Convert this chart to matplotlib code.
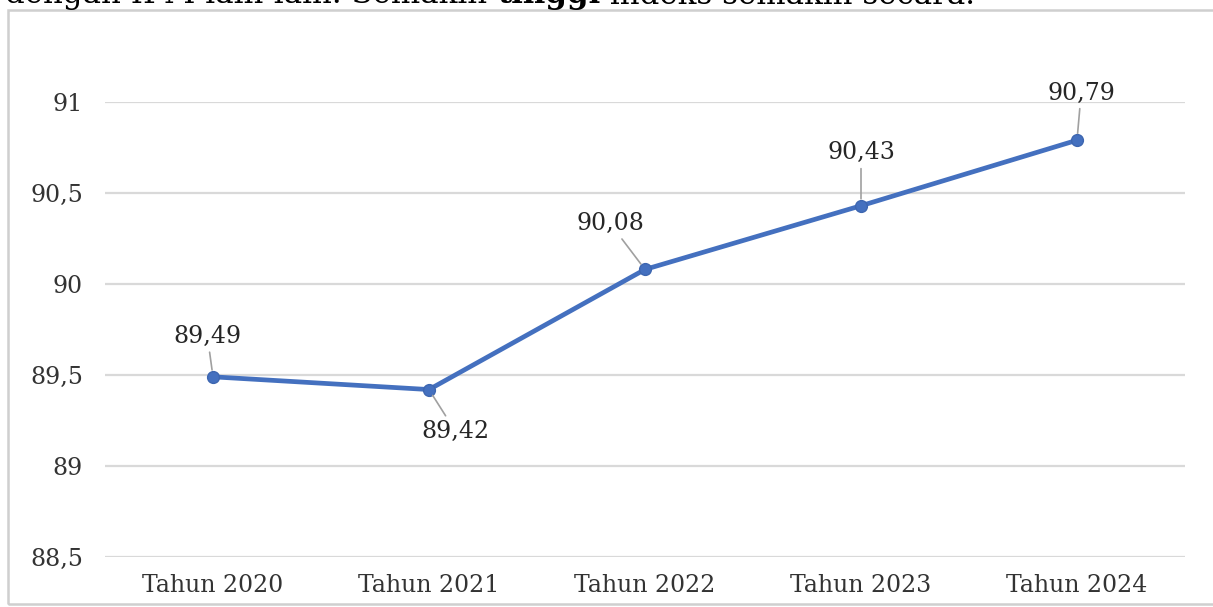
import matplotlib
matplotlib.use('Agg')
import matplotlib.pyplot as plt
from matplotlib.patches import Rectangle

years = ['Tahun 2020', 'Tahun 2021', 'Tahun 2022', 'Tahun 2023', 'Tahun 2024']
ipm = [89.49, 89.42, 90.08, 90.43, 90.79]
labels = ['89,49', '89,42', '90,08', '90,43', '90,79']
yticks = [88.5, 89, 89.5, 90, 90.5, 91]
ytick_labels = ['88,5', '89', '89,5', '90', '90,5', '91']

# pieces of the cut-off document line above the chart (middle word is bold)
top_parts = ['dengan IPM lain-lain. Semakin ', 'tinggi', ' indeks semakin secara.']
top_weights = ['normal', 'bold', 'normal']

# label offsets (points) relative to each marker
offsets = [(-4, 29), (19, -30), (-25, 33), (0, 38), (3, 34)]

W, H = 1213, 607
fig = plt.figure(figsize=(W / 100, H / 100), dpi=100)
fig.patch.set_facecolor('white')

# chart frame
fig.patches.append(Rectangle((8 / W, 3 / H), 1.2, (H - 12.5) / H, transform=fig.transFigure,
                             fill=False, edgecolor='#cfcfcf', linewidth=1.8))

# cut off line of document text on top, drawn piece by piece
renderer = fig.canvas.get_renderer()
xpos = 5
for part, wt in zip(top_parts, top_weights):
    t = fig.text(xpos / W, 1 - 3.5 / H, part, family='DejaVu Serif', fontsize=22.2,
                 fontweight=wt, color='black', va='baseline', ha='left')
    bb = t.get_window_extent(renderer)
    xpos += bb.width

ax = fig.add_axes([105 / W, 1 - 557 / H, 1080 / W, 455 / H])
x = list(range(len(years)))
ax.plot(x, ipm, color='#4470BF', linewidth=3.4, marker='o', markersize=8.5,
        markerfacecolor='#4470BF', markeredgecolor='#3d66b0', zorder=3, clip_on=False)

for xi, yi, lab, off in zip(x, ipm, labels, offsets):
    ax.annotate(lab, (xi, yi), xytext=off, textcoords='offset points',
                ha='center', va='center', fontsize=17, family='DejaVu Serif', color='#262626',
                arrowprops=dict(arrowstyle='-', color='#a0a0a0', lw=1.2, shrinkA=1, shrinkB=5),
                annotation_clip=False)

ax.set_xlim(-0.5, len(years) - 0.5)
ax.set_ylim(88.5, 91)
ax.set_yticks(yticks)
ax.set_yticklabels(ytick_labels)
ax.set_xticks(x)
ax.set_xticklabels(years)
ax.tick_params(axis='both', length=0, labelsize=17, colors='#333333')
ax.tick_params(axis='y', pad=16)
ax.tick_params(axis='x', pad=12)
for t in ax.get_xticklabels() + ax.get_yticklabels():
    t.set_family('DejaVu Serif')
ax.grid(axis='y', color='#d9d9d9', linewidth=1.6)
ax.set_axisbelow(True)
for s in ax.spines.values():
    s.set_visible(False)

fig.savefig('out.png', dpi=100)
